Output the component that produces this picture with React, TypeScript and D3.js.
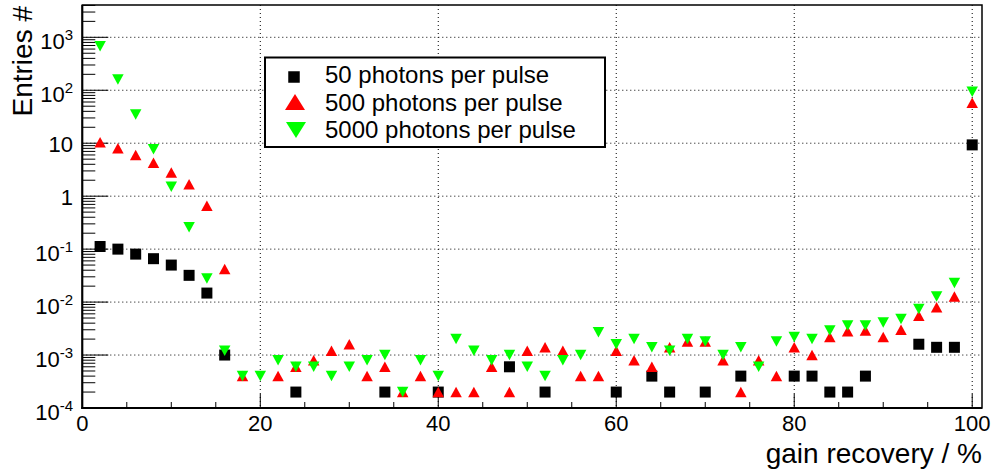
import React from "react";
import * as d3 from "d3";

// Bin centres of the gain-recovery histogram (%)
const binCenters = [
  2, 4, 6, 8, 10, 12, 14, 16, 18, 20, 22, 24, 26, 28, 30, 32, 34, 36, 38, 40,
  42, 44, 46, 48, 50, 52, 54, 56, 58, 60, 62, 64, 66, 68, 70, 72, 74, 76, 78, 80,
  82, 84, 86, 88, 90, 92, 94, 96, 98, 100,
];

// Entries per bin; null = empty bin (not drawn on the log axis)
const entries50: (number | null)[] = [
  0.112, 0.1, 0.0805, 0.066, 0.05, 0.032, 0.0148, 1e-3, null, null,
  null, 2e-4, null, null, null, null, 2e-4, null, null, 2e-4,
  null, null, null, 6e-4, null, 2e-4, null, null, null, 2e-4,
  null, 4e-4, 2e-4, null, 2e-4, null, 4e-4, null, null, 4e-4,
  4e-4, 2e-4, 2e-4, 4e-4, null, null, 1.6e-3, 1.4e-3, 1.4e-3, 9.3,
];

const entries500: (number | null)[] = [
  10.4, 8.0, 6.0, 4.3, 2.8, 1.68, 0.66, 0.042, 4e-4, null,
  4e-4, 6e-4, 8e-4, 1.2e-3, 1.6e-3, 4e-4, 6e-4, 2e-4, 4e-4, 2e-4,
  2e-4, 2e-4, 6e-4, 2e-4, 1.2e-3, 1.4e-3, 1.2e-3, 4e-4, 4e-4, 1.2e-3,
  8e-4, 6e-4, 1.4e-3, 1.8e-3, 1.8e-3, 8e-4, 2e-4, 8e-4, 4e-4, 1.4e-3,
  1e-3, 2.2e-3, 2.8e-3, 2.9e-3, 2.2e-3, 3.0e-3, 5.5e-3, 8.0e-3, 1.28e-2, 58,
];

const entries5000: (number | null)[] = [
  680, 160, 35, 7.7, 1.5, 0.26, 0.028, 1.2e-3, 4e-4, 4e-4,
  8e-4, 6e-4, 6e-4, 4e-4, 6e-4, 8e-4, 1e-3, 2e-4, 8e-4, 4e-4,
  2e-3, 1.2e-3, 8e-4, 1e-3, 6e-4, 4e-4, 8e-4, 1e-3, 2.7e-3, 1.6e-3,
  2e-3, 1.4e-3, 1.2e-3, 2e-3, 1.8e-3, 1e-3, 1.4e-3, 6e-4, 1.8e-3, 2.2e-3,
  2e-3, 2.9e-3, 3.6e-3, 3.6e-3, 4.1e-3, 4.8e-3, 7.4e-3, 1.28e-2, 2.3e-2, 94,
];

const xTickValues = [0, 20, 40, 60, 80, 100];
const xMinorTickValues = [5, 10, 15, 25, 30, 35, 45, 50, 55, 65, 70, 75, 85, 90, 95];
const yDecadeExponents = [-4, -3, -2, -1, 0, 1, 2, 3];

const legendLabels = [
  "50 photons per pulse",
  "500 photons per pulse",
  "5000 photons per pulse",
];

const W = 992;
const H = 473;
const FONT = "'Liberation Sans', Arial, Helvetica, sans-serif";

const frame = { left: 82.3, right: 982, top: 5, bottom: 408 };

const x = d3.scaleLinear().domain([0, 101.1]).range([frame.left, frame.right]);
const y = d3
  .scaleLog()
  .domain([1e-4, Math.pow(10, 3.61)])
  .range([frame.bottom, frame.top]);

const yMax = Math.pow(10, 3.61);

function squarePath(cx: number, cy: number, s: number) {
  const h = s / 2;
  return `M${cx - h},${cy - h}h${s}v${s}h${-s}Z`;
}
function triUpPath(cx: number, cy: number, w: number, h: number) {
  return `M${cx - w / 2},${cy + h / 2}L${cx + w / 2},${cy + h / 2}L${cx},${cy - h / 2}Z`;
}
function triDownPath(cx: number, cy: number, w: number, h: number) {
  return `M${cx - w / 2},${cy - h / 2}L${cx + w / 2},${cy - h / 2}L${cx},${cy + h / 2}Z`;
}

function decadeLabel(e: number) {
  if (e === 0) return <>1</>;
  if (e === 1) return <>10</>;
  return (
    <>
      10
      <tspan fontSize={15} dy={-9}>
        {String(e)}
      </tspan>
    </>
  );
}

export default function App() {
  const minorY: number[] = [];
  for (const e of yDecadeExponents) {
    for (let k = 2; k <= 9; k++) {
      const v = k * Math.pow(10, e);
      if (v < yMax) minorY.push(v);
    }
  }

  const points = (vals: (number | null)[]) =>
    binCenters
      .map((c, i) => ({ c, v: vals[i] }))
      .filter((d) => d.v !== null && (d.v as number) > 0) as { c: number; v: number }[];

  return (
    <svg
      width={W}
      height={H}
      style={{ position: "absolute", left: 0, top: 0, background: "#fff" }}
      fontFamily={FONT}
    >
      <rect x={0} y={0} width={W} height={H} fill="#fff" />

      {/* grid */}
      <g stroke="#000" strokeWidth={1} strokeDasharray="1,3">
        {yDecadeExponents
          .filter((e) => e > -4)
          .map((e) => (
            <line
              key={"gy" + e}
              x1={frame.left}
              x2={frame.right}
              y1={y(Math.pow(10, e))}
              y2={y(Math.pow(10, e))}
            />
          ))}
        {xTickValues
          .filter((t) => t > 0)
          .map((t) => (
            <line key={"gx" + t} x1={x(t)} x2={x(t)} y1={frame.top} y2={frame.bottom} />
          ))}
      </g>

      {/* y ticks */}
      <g stroke="#000" strokeWidth={1}>
        {yDecadeExponents.map((e) => (
          <line
            key={"yt" + e}
            x1={frame.left}
            x2={frame.left + 26}
            y1={y(Math.pow(10, e))}
            y2={y(Math.pow(10, e))}
          />
        ))}
        {minorY.map((v, i) => (
          <line key={"ym" + i} x1={frame.left} x2={frame.left + 13} y1={y(v)} y2={y(v)} />
        ))}
        {xTickValues.map((t) => (
          <line key={"xt" + t} x1={x(t)} x2={x(t)} y1={frame.bottom} y2={frame.bottom - 14} />
        ))}
        {xMinorTickValues.map((t) => (
          <line key={"xm" + t} x1={x(t)} x2={x(t)} y1={frame.bottom} y2={frame.bottom - 6} />
        ))}
      </g>

      {/* frame */}
      <rect
        x={frame.left}
        y={frame.top}
        width={frame.right - frame.left}
        height={frame.bottom - frame.top}
        fill="none"
        stroke="#000"
        strokeWidth={1.5}
      />
      <line x1={frame.left} x2={frame.left} y1={frame.top} y2={frame.bottom + 1} stroke="#000" strokeWidth={2} />
      <line x1={frame.left - 1} x2={frame.right} y1={frame.bottom} y2={frame.bottom} stroke="#000" strokeWidth={2} />

      {/* tick labels */}
      <g fontSize={22} fill="#000">
        {yDecadeExponents.map((e) => (
          <text
            key={"yl" + e}
            x={73}
            y={y(Math.pow(10, e)) + (e === 0 || e === 1 ? 8.5 : 11.5)}
            textAnchor="end"
          >
            {decadeLabel(e)}
          </text>
        ))}
        {xTickValues.map((t) => (
          <text key={"xl" + t} x={x(t)} y={431} textAnchor="middle">
            {t}
          </text>
        ))}
      </g>

      {/* axis titles */}
      <text
        fontSize={28}
        textAnchor="end"
        transform={`translate(32,6) rotate(-90)`}
        fill="#000"
      >
        Entries #
      </text>
      <text fontSize={28} textAnchor="end" x={982} y={463} fill="#000">
        gain recovery / %
      </text>

      {/* data */}
      <g fill="#000">
        {points(entries50).map((d, i) => (
          <path key={"b" + i} d={squarePath(x(d.c), y(d.v), 11)} />
        ))}
      </g>
      <g fill="#ff0000">
        {points(entries500).map((d, i) => (
          <path key={"r" + i} d={triUpPath(x(d.c), y(d.v), 11.5, 10.5)} />
        ))}
      </g>
      <g fill="#00ff00">
        {points(entries5000).map((d, i) => (
          <path key={"g" + i} d={triDownPath(x(d.c), y(d.v), 11.5, 10.5)} />
        ))}
      </g>

      {/* legend */}
      <g>
        <rect x={265} y={57.5} width={340} height={89.5} fill="#fff" stroke="#000" strokeWidth={2} />
        <path d={squarePath(294, 77, 11.5)} fill="#000" />
        <path d={triUpPath(295, 102, 20, 16)} fill="#ff0000" />
        <path d={triDownPath(296, 130, 20, 16)} fill="#00ff00" />
        <g fontSize={24} fill="#000">
          {legendLabels.map((l, i) => (
            <text key={l} x={325} y={83 + i * 27.5}>
              {l}
            </text>
          ))}
        </g>
      </g>
    </svg>
  );
}
